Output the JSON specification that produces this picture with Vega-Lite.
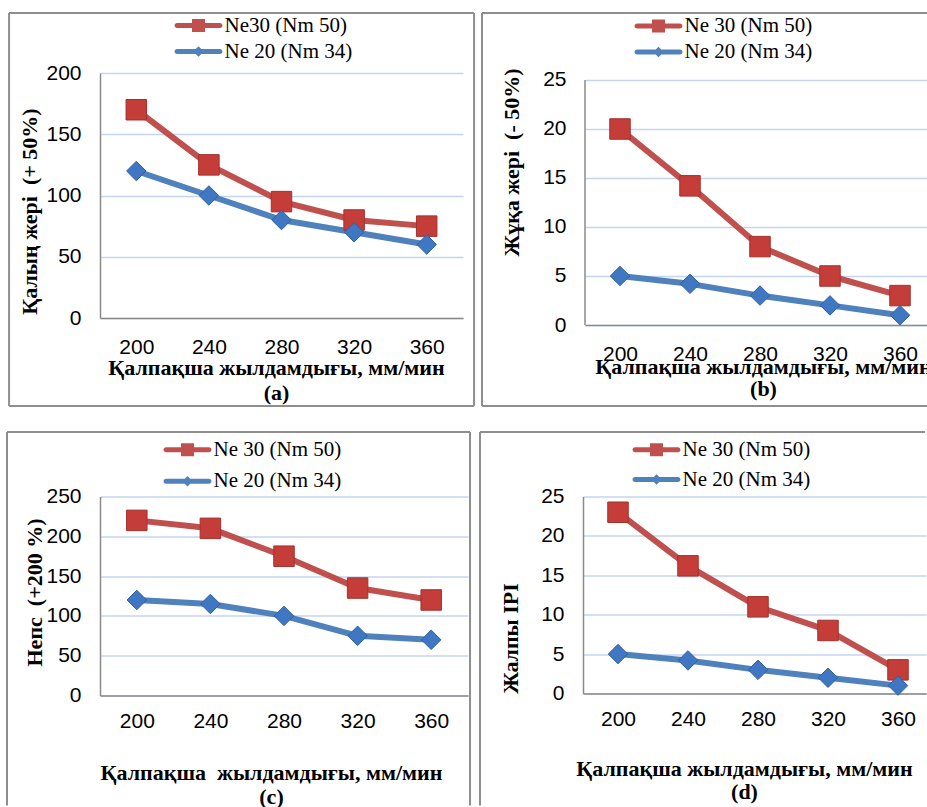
{
  "$schema": "https://vega.github.io/schema/vega-lite/v6.json",
  "padding": {"left": 6, "top": 11, "right": 0, "bottom": 0},
  "background": "white",
  "datasets": {
    "a": [
      {"speed": 200, "series": "Ne30 (Nm 50)", "value": 170},
      {"speed": 240, "series": "Ne30 (Nm 50)", "value": 125},
      {"speed": 280, "series": "Ne30 (Nm 50)", "value": 95},
      {"speed": 320, "series": "Ne30 (Nm 50)", "value": 80},
      {"speed": 360, "series": "Ne30 (Nm 50)", "value": 75},
      {"speed": 200, "series": "Ne 20 (Nm 34)", "value": 120},
      {"speed": 240, "series": "Ne 20 (Nm 34)", "value": 100},
      {"speed": 280, "series": "Ne 20 (Nm 34)", "value": 80},
      {"speed": 320, "series": "Ne 20 (Nm 34)", "value": 70},
      {"speed": 360, "series": "Ne 20 (Nm 34)", "value": 60}
    ],
    "b": [
      {"speed": 200, "series": "Ne 30 (Nm 50)", "value": 20},
      {"speed": 240, "series": "Ne 30 (Nm 50)", "value": 14.2},
      {"speed": 280, "series": "Ne 30 (Nm 50)", "value": 8},
      {"speed": 320, "series": "Ne 30 (Nm 50)", "value": 5},
      {"speed": 360, "series": "Ne 30 (Nm 50)", "value": 3},
      {"speed": 200, "series": "Ne 20 (Nm 34)", "value": 5},
      {"speed": 240, "series": "Ne 20 (Nm 34)", "value": 4.2},
      {"speed": 280, "series": "Ne 20 (Nm 34)", "value": 3},
      {"speed": 320, "series": "Ne 20 (Nm 34)", "value": 2},
      {"speed": 360, "series": "Ne 20 (Nm 34)", "value": 1}
    ],
    "c": [
      {"speed": 200, "series": "Ne 30 (Nm 50)", "value": 220},
      {"speed": 240, "series": "Ne 30 (Nm 50)", "value": 210},
      {"speed": 280, "series": "Ne 30 (Nm 50)", "value": 175},
      {"speed": 320, "series": "Ne 30 (Nm 50)", "value": 135},
      {"speed": 360, "series": "Ne 30 (Nm 50)", "value": 120},
      {"speed": 200, "series": "Ne 20 (Nm 34)", "value": 120},
      {"speed": 240, "series": "Ne 20 (Nm 34)", "value": 115},
      {"speed": 280, "series": "Ne 20 (Nm 34)", "value": 100},
      {"speed": 320, "series": "Ne 20 (Nm 34)", "value": 75},
      {"speed": 360, "series": "Ne 20 (Nm 34)", "value": 70}
    ],
    "d": [
      {"speed": 200, "series": "Ne 30 (Nm 50)", "value": 23},
      {"speed": 240, "series": "Ne 30 (Nm 50)", "value": 16.2},
      {"speed": 280, "series": "Ne 30 (Nm 50)", "value": 11},
      {"speed": 320, "series": "Ne 30 (Nm 50)", "value": 8},
      {"speed": 360, "series": "Ne 30 (Nm 50)", "value": 3},
      {"speed": 200, "series": "Ne 20 (Nm 34)", "value": 5},
      {"speed": 240, "series": "Ne 20 (Nm 34)", "value": 4.2},
      {"speed": 280, "series": "Ne 20 (Nm 34)", "value": 3},
      {"speed": 320, "series": "Ne 20 (Nm 34)", "value": 2},
      {"speed": 360, "series": "Ne 20 (Nm 34)", "value": 1}
    ]
  },
  "spacing": 22.5,
  "resolve": {"scale": {"color": "independent", "shape": "independent", "fill": "independent", "stroke": "independent", "size": "independent"}, "legend": {"color": "independent"}},
  "vconcat": [
    {
      "spacing": 4,
      "resolve": {"scale": {"color": "independent", "shape": "independent", "fill": "independent", "stroke": "independent", "size": "independent"}, "legend": {"color": "independent"}},
      "hconcat": [
        {
          "width": 363, "height": 245,
          "layer": [
            {"data": {"values": [{}]}, "mark": {"type": "rule", "stroke": "#8e8e8e", "strokeWidth": 2},
             "encoding": {"x": {"datum": 129.9, "type": "quantitative", "scale": {"domain": [180, 380], "nice": false, "zero": false}}, "x2": {"datum": 386.1},
                          "y": {"datum": 248.98, "type": "quantitative", "scale": {"domain": [0, 200], "nice": false}}}},
            {"data": {"values": [{}]}, "mark": {"type": "rule", "stroke": "#8e8e8e", "strokeWidth": 2},
             "encoding": {"x": {"datum": 129.9, "type": "quantitative", "scale": {"domain": [180, 380], "nice": false, "zero": false}}, "x2": {"datum": 386.1},
                          "y": {"datum": -71.84, "type": "quantitative", "scale": {"domain": [0, 200], "nice": false}}}},
            {"data": {"values": [{}]}, "mark": {"type": "rule", "stroke": "#8e8e8e", "strokeWidth": 2},
             "encoding": {"x": {"datum": 129.9, "type": "quantitative", "scale": {"domain": [180, 380], "nice": false, "zero": false}},
                          "y": {"datum": 248.98, "type": "quantitative", "scale": {"domain": [0, 200], "nice": false}}, "y2": {"datum": -71.84}}},
            {"data": {"values": [{}]}, "mark": {"type": "rule", "stroke": "#8e8e8e", "strokeWidth": 2},
             "encoding": {"x": {"datum": 386.1, "type": "quantitative", "scale": {"domain": [180, 380], "nice": false, "zero": false}},
                          "y": {"datum": 248.98, "type": "quantitative", "scale": {"domain": [0, 200], "nice": false}}, "y2": {"datum": -71.84}}},
            {"data": {"name": "a"}, "mark": {"type": "line", "strokeWidth": 6, "strokeJoin": "round", "strokeCap": "round"},
             "encoding": {
               "x": {"field": "speed", "type": "quantitative", "scale": {"domain": [180, 380], "nice": false, "zero": false},
                     "axis": {"values": [200, 240, 280, 320, 360], "tickCount": 10, "format": "d", "title": ["Қалпақша жылдамдығы, мм/мин", "(a)"], "titleX": 176, "titleY": 56, "titleLineHeight": 25}},
               "y": {"field": "value", "type": "quantitative", "scale": {"domain": [0, 200], "nice": false},
                     "axis": {"values": [0, 50, 100, 150, 200], "tickCount": 10, "labelOverlap": false, "title": "Қалың жері\u00a0 (+ 50%)", "titleX": -64, "titleY": 138}},
               "color": {"field": "series", "type": "nominal", "scale": {"domain": ["Ne30 (Nm 50)", "Ne 20 (Nm 34)"], "range": ["#c0504d", "#4f81bd"]},
                         "legend": {"title": null, "orient": "none", "legendX": 88, "legendY": -58, "rowPadding": 4, "labelFont": "Liberation Serif", "labelFontSize": 21,
                                    "labelExpr": "indexof(datum.label, '20') >= 0 ? '\u00a0' + datum.label : datum.label",
                                    "encode": {"symbols": {"update": {
                                      "shape": {"signal": "indexof(datum.value, '50') >= 0 ? 'M-3.3,-0.385 L3.3,-0.385 A0.385,0.385 0 0 1 3.3,0.385 L-3.3,0.385 A0.385,0.385 0 0 1 -3.3,-0.385 Z M-1,-1 L1,-1 L1,1 L-1,1 Z' : 'M-3.3,-0.385 L3.3,-0.385 A0.385,0.385 0 0 1 3.3,0.385 L-3.3,0.385 A0.385,0.385 0 0 1 -3.3,-0.385 Z M-0.8,0 L0,-0.8 L0.8,0 L0,0.8 Z'"},
                                      "fill": {"signal": "indexof(datum.value, '50') >= 0 ? '#c0504d' : '#4f81bd'"},
                                      "size": {"value": 169},
                                      "stroke": {"value": "transparent"}, "strokeWidth": {"value": 0}, "opacity": {"value": 1}, "fillOpacity": {"value": 1}}}}}}
             }},
            {"data": {"name": "a"}, "mark": {"type": "point", "filled": true, "opacity": 1, "strokeWidth": 1},
             "encoding": {
               "x": {"field": "speed", "type": "quantitative", "scale": {"domain": [180, 380], "nice": false, "zero": false}},
               "y": {"field": "value", "type": "quantitative", "scale": {"domain": [0, 200], "nice": false}},
               "shape": {"field": "series", "type": "nominal", "scale": {"domain": ["Ne 20 (Nm 34)", "Ne30 (Nm 50)"], "range": ["diamond", "square"]}, "legend": null},
               "size": {"field": "series", "type": "nominal", "scale": {"domain": ["Ne 20 (Nm 34)", "Ne30 (Nm 50)"], "range": [380, 420]}, "legend": null},
               "fill": {"field": "series", "type": "nominal", "scale": {"domain": ["Ne 20 (Nm 34)", "Ne30 (Nm 50)"], "range": ["#3f77c2", "#c43d39"]}, "legend": null},
               "stroke": {"field": "series", "type": "nominal", "scale": {"domain": ["Ne 20 (Nm 34)", "Ne30 (Nm 50)"], "range": ["#30609f", "#a3312e"]}, "legend": null}
             }}
          ]
        },
        {
          "width": 343, "height": 252,
          "layer": [
            {"data": {"values": [{}]}, "mark": {"type": "rule", "stroke": "#8e8e8e", "strokeWidth": 2},
             "encoding": {"x": {"datum": 121.14, "type": "quantitative", "scale": {"domain": [180, 376], "nice": false, "zero": false}}, "x2": {"datum": 375.43},
                          "y": {"datum": 31.84, "type": "quantitative", "scale": {"domain": [0, 25.714], "nice": false}}}},
            {"data": {"values": [{}]}, "mark": {"type": "rule", "stroke": "#8e8e8e", "strokeWidth": 2},
             "encoding": {"x": {"datum": 121.14, "type": "quantitative", "scale": {"domain": [180, 376], "nice": false, "zero": false}}, "x2": {"datum": 375.43},
                          "y": {"datum": -8.27, "type": "quantitative", "scale": {"domain": [0, 25.714], "nice": false}}}},
            {"data": {"values": [{}]}, "mark": {"type": "rule", "stroke": "#8e8e8e", "strokeWidth": 2},
             "encoding": {"x": {"datum": 121.14, "type": "quantitative", "scale": {"domain": [180, 376], "nice": false, "zero": false}},
                          "y": {"datum": 31.84, "type": "quantitative", "scale": {"domain": [0, 25.714], "nice": false}}, "y2": {"datum": -8.27}}},
            {"data": {"values": [{}]}, "mark": {"type": "rule", "stroke": "#8a8a8a", "strokeWidth": 1.5},
             "encoding": {"x": {"datum": 180, "type": "quantitative", "scale": {"domain": [180, 376], "nice": false, "zero": false}},
                          "y": {"datum": 0, "type": "quantitative", "scale": {"domain": [0, 25.714], "nice": false}}, "y2": {"datum": 25}}},
            {"data": {"name": "b"}, "mark": {"type": "line", "strokeWidth": 6, "strokeJoin": "round", "strokeCap": "round"},
             "encoding": {
               "x": {"field": "speed", "type": "quantitative", "scale": {"domain": [180, 376], "nice": false, "zero": false},
                     "axis": {"values": [200, 240, 280, 320, 360], "tickCount": 10, "format": "d", "title": ["Қалпақша жылдамдығы, мм/мин", "(b)"], "titleX": 178, "titleY": 48.5, "titleLineHeight": 22}},
               "y": {"field": "value", "type": "quantitative", "scale": {"domain": [0, 25.714], "nice": false},
                     "axis": {"values": [0, 5, 10, 15, 20, 25], "tickCount": 10, "domain": false, "labelOverlap": false, "title": "Жұқа жері\u00a0 (- 50%)", "titleX": -67, "titleY": 89}},
               "color": {"field": "series", "type": "nominal", "scale": {"domain": ["Ne 30 (Nm 50)", "Ne 20 (Nm 34)"], "range": ["#c0504d", "#4f81bd"]},
                         "legend": {"title": null, "orient": "none", "legendX": 63, "legendY": -57.5, "rowPadding": 4, "labelFont": "Liberation Serif", "labelFontSize": 21,
                                    "labelExpr": "indexof(datum.label, '20') >= 0 ? '\u00a0' + datum.label : datum.label",
                                    "encode": {"symbols": {"update": {
                                      "shape": {"signal": "indexof(datum.value, '50') >= 0 ? 'M-3.3,-0.385 L3.3,-0.385 A0.385,0.385 0 0 1 3.3,0.385 L-3.3,0.385 A0.385,0.385 0 0 1 -3.3,-0.385 Z M-1,-1 L1,-1 L1,1 L-1,1 Z' : 'M-3.3,-0.385 L3.3,-0.385 A0.385,0.385 0 0 1 3.3,0.385 L-3.3,0.385 A0.385,0.385 0 0 1 -3.3,-0.385 Z M-0.8,0 L0,-0.8 L0.8,0 L0,0.8 Z'"},
                                      "fill": {"signal": "indexof(datum.value, '50') >= 0 ? '#c0504d' : '#4f81bd'"},
                                      "size": {"value": 169},
                                      "stroke": {"value": "transparent"}, "strokeWidth": {"value": 0}, "opacity": {"value": 1}, "fillOpacity": {"value": 1}}}}}}
             }},
            {"data": {"name": "b"}, "mark": {"type": "point", "filled": true, "opacity": 1, "strokeWidth": 1},
             "encoding": {
               "x": {"field": "speed", "type": "quantitative", "scale": {"domain": [180, 376], "nice": false, "zero": false}},
               "y": {"field": "value", "type": "quantitative", "scale": {"domain": [0, 25.714], "nice": false}},
               "shape": {"field": "series", "type": "nominal", "scale": {"domain": ["Ne 20 (Nm 34)", "Ne 30 (Nm 50)"], "range": ["diamond", "square"]}, "legend": null},
               "size": {"field": "series", "type": "nominal", "scale": {"domain": ["Ne 20 (Nm 34)", "Ne 30 (Nm 50)"], "range": [380, 420]}, "legend": null},
               "fill": {"field": "series", "type": "nominal", "scale": {"domain": ["Ne 20 (Nm 34)", "Ne 30 (Nm 50)"], "range": ["#3f77c2", "#c43d39"]}, "legend": null},
               "stroke": {"field": "series", "type": "nominal", "scale": {"domain": ["Ne 20 (Nm 34)", "Ne 30 (Nm 50)"], "range": ["#30609f", "#a3312e"]}, "legend": null}
             }}
          ]
        }
      ]
    },
    {
      "spacing": 6,
      "resolve": {"scale": {"color": "independent", "shape": "independent", "fill": "independent", "stroke": "independent", "size": "independent"}, "legend": {"color": "independent"}},
      "hconcat": [
        {
          "width": 368, "height": 199,
          "layer": [
            {"data": {"values": [{}]}, "mark": {"type": "rule", "stroke": "#8e8e8e", "strokeWidth": 2},
             "encoding": {"x": {"datum": 129.46, "type": "quantitative", "scale": {"domain": [180, 380], "nice": false, "zero": false}}, "x2": {"datum": 381.1},
                          "y": {"datum": 331.0, "type": "quantitative", "scale": {"domain": [0, 250], "nice": false}}}},
            {"data": {"values": [{}]}, "mark": {"type": "rule", "stroke": "#8e8e8e", "strokeWidth": 2},
             "encoding": {"x": {"datum": 129.46, "type": "quantitative", "scale": {"domain": [180, 380], "nice": false, "zero": false}},
                          "y": {"datum": 331.0, "type": "quantitative", "scale": {"domain": [0, 250], "nice": false}}, "y2": {"datum": -138.2}}},
            {"data": {"values": [{}]}, "mark": {"type": "rule", "stroke": "#8e8e8e", "strokeWidth": 2},
             "encoding": {"x": {"datum": 381.1, "type": "quantitative", "scale": {"domain": [180, 380], "nice": false, "zero": false}},
                          "y": {"datum": 331.0, "type": "quantitative", "scale": {"domain": [0, 250], "nice": false}}, "y2": {"datum": -138.2}}},
            {"data": {"name": "c"}, "mark": {"type": "line", "strokeWidth": 6, "strokeJoin": "round", "strokeCap": "round"},
             "encoding": {
               "x": {"field": "speed", "type": "quantitative", "scale": {"domain": [180, 380], "nice": false, "zero": false},
                     "axis": {"values": [200, 240, 280, 320, 360], "tickCount": 10, "format": "d", "labelPadding": 15, "title": ["Қалпақша\u00a0 жылдамдығы, мм/мин", "(c)"], "titleX": 171, "titleY": 84, "titleLineHeight": 24}},
               "y": {"field": "value", "type": "quantitative", "scale": {"domain": [0, 250], "nice": false},
                     "axis": {"values": [0, 50, 100, 150, 200, 250], "tickCount": 10, "labelOverlap": false, "title": "Непс\u00a0 (+200 %)", "titleX": -59, "titleY": 95.5}},
               "color": {"field": "series", "type": "nominal", "scale": {"domain": ["Ne 30 (Nm 50)", "Ne 20 (Nm 34)"], "range": ["#c0504d", "#4f81bd"]},
                         "legend": {"title": null, "orient": "none", "legendX": 77, "legendY": -57.2, "rowPadding": 9.4, "labelFont": "Liberation Serif", "labelFontSize": 21,
                                    "labelExpr": "indexof(datum.label, '20') >= 0 ? '\u00a0' + datum.label : datum.label",
                                    "encode": {"symbols": {"update": {
                                      "shape": {"signal": "indexof(datum.value, '50') >= 0 ? 'M-3.3,-0.385 L3.3,-0.385 A0.385,0.385 0 0 1 3.3,0.385 L-3.3,0.385 A0.385,0.385 0 0 1 -3.3,-0.385 Z M-1,-1 L1,-1 L1,1 L-1,1 Z' : 'M-3.3,-0.385 L3.3,-0.385 A0.385,0.385 0 0 1 3.3,0.385 L-3.3,0.385 A0.385,0.385 0 0 1 -3.3,-0.385 Z M-0.8,0 L0,-0.8 L0.8,0 L0,0.8 Z'"},
                                      "fill": {"signal": "indexof(datum.value, '50') >= 0 ? '#c0504d' : '#4f81bd'"},
                                      "size": {"value": 169},
                                      "stroke": {"value": "transparent"}, "strokeWidth": {"value": 0}, "opacity": {"value": 1}, "fillOpacity": {"value": 1}}}}}}
             }},
            {"data": {"name": "c"}, "mark": {"type": "point", "filled": true, "opacity": 1, "strokeWidth": 1},
             "encoding": {
               "x": {"field": "speed", "type": "quantitative", "scale": {"domain": [180, 380], "nice": false, "zero": false}},
               "y": {"field": "value", "type": "quantitative", "scale": {"domain": [0, 250], "nice": false}},
               "shape": {"field": "series", "type": "nominal", "scale": {"domain": ["Ne 20 (Nm 34)", "Ne 30 (Nm 50)"], "range": ["diamond", "square"]}, "legend": null},
               "size": {"field": "series", "type": "nominal", "scale": {"domain": ["Ne 20 (Nm 34)", "Ne 30 (Nm 50)"], "range": [380, 420]}, "legend": null},
               "fill": {"field": "series", "type": "nominal", "scale": {"domain": ["Ne 20 (Nm 34)", "Ne 30 (Nm 50)"], "range": ["#3f77c2", "#c43d39"]}, "legend": null},
               "stroke": {"field": "series", "type": "nominal", "scale": {"domain": ["Ne 20 (Nm 34)", "Ne 30 (Nm 50)"], "range": ["#30609f", "#a3312e"]}, "legend": null}
             }}
          ]
        },
        {
          "width": 343, "height": 197,
          "layer": [
            {"data": {"values": [{}]}, "mark": {"type": "rule", "stroke": "#8e8e8e", "strokeWidth": 2},
             "encoding": {"x": {"datum": 121.14, "type": "quantitative", "scale": {"domain": [180, 376], "nice": false, "zero": false}}, "x2": {"datum": 375.43},
                          "y": {"datum": 33.19, "type": "quantitative", "scale": {"domain": [0, 25], "nice": false}}}},
            {"data": {"values": [{}]}, "mark": {"type": "rule", "stroke": "#8e8e8e", "strokeWidth": 2},
             "encoding": {"x": {"datum": 121.14, "type": "quantitative", "scale": {"domain": [180, 376], "nice": false, "zero": false}},
                          "y": {"datum": 33.19, "type": "quantitative", "scale": {"domain": [0, 25], "nice": false}}, "y2": {"datum": -14.21}}},
            {"data": {"name": "d"}, "mark": {"type": "line", "strokeWidth": 6, "strokeJoin": "round", "strokeCap": "round"},
             "encoding": {
               "x": {"field": "speed", "type": "quantitative", "scale": {"domain": [180, 376], "nice": false, "zero": false},
                     "axis": {"values": [200, 240, 280, 320, 360], "tickCount": 10, "format": "d", "labelPadding": 15, "title": ["Қалпақша жылдамдығы, мм/мин", "(d)"], "titleX": 161, "titleY": 82, "titleLineHeight": 23}},
               "y": {"field": "value", "type": "quantitative", "scale": {"domain": [0, 25], "nice": false},
                     "axis": {"values": [0, 5, 10, 15, 20, 25], "tickCount": 10, "labelOverlap": false, "title": "Жалпы IPI", "titleX": -66, "titleY": 141.5}},
               "color": {"field": "series", "type": "nominal", "scale": {"domain": ["Ne 30 (Nm 50)", "Ne 20 (Nm 34)"], "range": ["#c0504d", "#4f81bd"]},
                         "legend": {"title": null, "orient": "none", "legendX": 63, "legendY": -57.2, "rowPadding": 7.7, "labelFont": "Liberation Serif", "labelFontSize": 21,
                                    "labelExpr": "indexof(datum.label, '20') >= 0 ? '\u00a0' + datum.label : datum.label",
                                    "encode": {"symbols": {"update": {
                                      "shape": {"signal": "indexof(datum.value, '50') >= 0 ? 'M-3.3,-0.385 L3.3,-0.385 A0.385,0.385 0 0 1 3.3,0.385 L-3.3,0.385 A0.385,0.385 0 0 1 -3.3,-0.385 Z M-1,-1 L1,-1 L1,1 L-1,1 Z' : 'M-3.3,-0.385 L3.3,-0.385 A0.385,0.385 0 0 1 3.3,0.385 L-3.3,0.385 A0.385,0.385 0 0 1 -3.3,-0.385 Z M-0.8,0 L0,-0.8 L0.8,0 L0,0.8 Z'"},
                                      "fill": {"signal": "indexof(datum.value, '50') >= 0 ? '#c0504d' : '#4f81bd'"},
                                      "size": {"value": 169},
                                      "stroke": {"value": "transparent"}, "strokeWidth": {"value": 0}, "opacity": {"value": 1}, "fillOpacity": {"value": 1}}}}}}
             }},
            {"data": {"name": "d"}, "mark": {"type": "point", "filled": true, "opacity": 1, "strokeWidth": 1},
             "encoding": {
               "x": {"field": "speed", "type": "quantitative", "scale": {"domain": [180, 376], "nice": false, "zero": false}},
               "y": {"field": "value", "type": "quantitative", "scale": {"domain": [0, 25], "nice": false}},
               "shape": {"field": "series", "type": "nominal", "scale": {"domain": ["Ne 20 (Nm 34)", "Ne 30 (Nm 50)"], "range": ["diamond", "square"]}, "legend": null},
               "size": {"field": "series", "type": "nominal", "scale": {"domain": ["Ne 20 (Nm 34)", "Ne 30 (Nm 50)"], "range": [380, 420]}, "legend": null},
               "fill": {"field": "series", "type": "nominal", "scale": {"domain": ["Ne 20 (Nm 34)", "Ne 30 (Nm 50)"], "range": ["#3f77c2", "#c43d39"]}, "legend": null},
               "stroke": {"field": "series", "type": "nominal", "scale": {"domain": ["Ne 20 (Nm 34)", "Ne 30 (Nm 50)"], "range": ["#30609f", "#a3312e"]}, "legend": null}
             }}
          ]
        }
      ]
    }
  ],
  "config": {
    "view": {"stroke": null},
    "axis": {
      "labelFont": "Liberation Sans", "labelFontSize": 21, "labelColor": "#000000",
      "titleFont": "Liberation Serif", "titleFontWeight": "bold", "titleFontSize": 22, "titleColor": "#000000",
      "titleBaseline": "alphabetic", "titleAlign": "center",
      "ticks": false, "tickSize": 0,
      "domainColor": "#8a8a8a", "domainWidth": 1.5,
      "gridColor": "#c5d5f0", "gridWidth": 1.5,
      "labelFlush": false, "labelOverlap": false, "labelBound": false
    },
    "axisX": {"grid": false, "labelPadding": 18},
    "axisY": {"grid": true, "labelPadding": 19},
    "legend": {
      "labelFont": "Liberation Serif", "labelFontSize": 21, "labelColor": "#000000", "labelOffset": 15.5, "labelLimit": 0,
      "symbolSize": 169, "symbolStrokeWidth": 0, "padding": 0, "direction": "vertical"
    }
  }
}
